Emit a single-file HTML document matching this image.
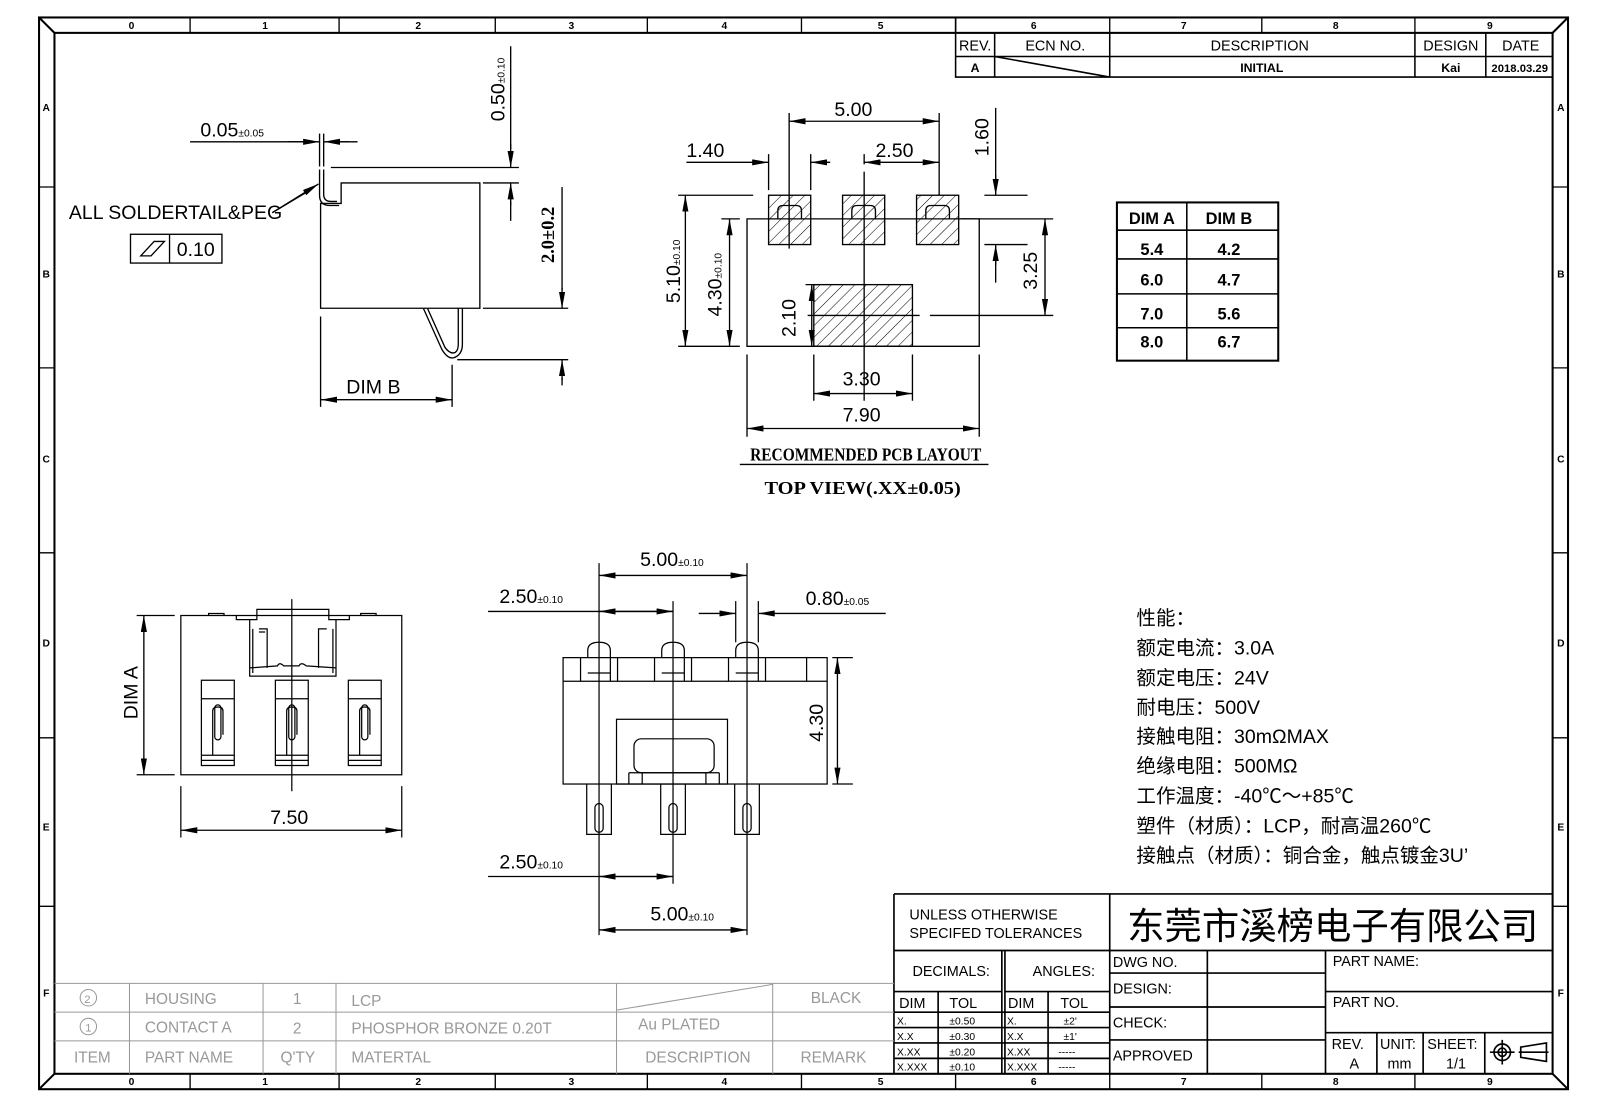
<!DOCTYPE html>
<html><head><meta charset="utf-8"><style>
html,body{margin:0;padding:0;background:#fff;}
svg{display:block;}
text{font-family:"Liberation Sans","Noto Sans CJK SC",sans-serif;}
.d{font-size:19px;font-weight:300;}
.s{font-size:10px;}
.g{fill:#999;font-size:15px;}
.t{font-size:14px;}
.r{font-size:10px;font-weight:bold;}
.cn{font-family:"Liberation Serif","Noto Serif CJK SC",serif;font-size:19px;}
.bs{font-family:"Liberation Serif","Noto Serif CJK SC",serif;font-weight:bold;}
</style></head><body>
<svg width="1605" height="1100" viewBox="0 0 1562 1070.5" preserveAspectRatio="none" xmlns="http://www.w3.org/2000/svg">
<defs>
<marker id="a" viewBox="0 0 16 6" refX="16" refY="3" markerWidth="16" markerHeight="6" markerUnits="userSpaceOnUse" orient="auto-start-reverse"><path d="M0,0 L16,3 L0,6z" fill="#000"/></marker>
<pattern id="h" width="8" height="8" patternUnits="userSpaceOnUse" patternTransform="rotate(45)"><line x1="0" y1="0" x2="0" y2="8" stroke="#000" stroke-width="1"/></pattern>
</defs>
<g fill="none" stroke="#000" stroke-width="2">
<rect x="38" y="17" width="1488" height="1043"/>
<rect x="53" y="32" width="1458" height="1013"/>
<path d="M38,17 L53,32 M1526,17 L1511,32 M38,1060 L53,1045 M1526,1060 L1511,1045"/>
</g>
<g stroke="#000" stroke-width="1.3">
<path d="M185,17V32 M330,17V32 M482,17V32 M630,17V32 M780,17V32 M930,17V32 M1080,17V32 M1228,17V32 M1377,17V32"/>
<path d="M185,1045V1060 M330,1045V1060 M482,1045V1060 M630,1045V1060 M780,1045V1060 M930,1045V1060 M1080,1045V1060 M1228,1045V1060 M1377,1045V1060"/>
<path d="M38,182H53 M38,358H53 M38,538H53 M38,718H53 M38,882H53 M1511,182H1526 M1511,358H1526 M1511,538H1526 M1511,718H1526 M1511,882H1526"/>
</g>
<g class="r" text-anchor="middle">
<text x="128" y="28">0</text><text x="258" y="28">1</text><text x="407" y="28">2</text><text x="556" y="28">3</text><text x="705" y="28">4</text><text x="857" y="28">5</text><text x="1006" y="28">6</text><text x="1152" y="28">7</text><text x="1300" y="28">8</text><text x="1450" y="28">9</text>
<text x="128" y="1056">0</text><text x="258" y="1056">1</text><text x="407" y="1056">2</text><text x="556" y="1056">3</text><text x="705" y="1056">4</text><text x="857" y="1056">5</text><text x="1006" y="1056">6</text><text x="1152" y="1056">7</text><text x="1300" y="1056">8</text><text x="1450" y="1056">9</text>
<text x="45" y="108">A</text><text x="45" y="270">B</text><text x="45" y="450">C</text><text x="45" y="629">D</text><text x="45" y="808">E</text><text x="45" y="970">F</text>
<text x="1519" y="108">A</text><text x="1519" y="270">B</text><text x="1519" y="450">C</text><text x="1519" y="629">D</text><text x="1519" y="808">E</text><text x="1519" y="970">F</text>
</g>
<!-- revision table -->
<g fill="none" stroke="#000" stroke-width="1.5">
<path d="M930,17V75H1511 M930,55H1511 M968,32V75 M1080,32V75 M1377,32V75 M1446,32V75 M968,55L1080,75"/>
</g>
<g class="t" text-anchor="middle" font-weight="300">
<text x="949" y="49">REV.</text><text x="1027" y="49">ECN NO.</text><text x="1226" y="49">DESCRIPTION</text><text x="1412" y="49">DESIGN</text><text x="1480" y="49">DATE</text>
</g>
<g font-size="12" font-weight="bold" text-anchor="middle">
<text x="949" y="70">A</text><text x="1228" y="70">INITIAL</text><text x="1412" y="70">Kai</text><text x="1479" y="70" font-size="11">2018.03.29</text>
</g>
<!-- side view -->
<g fill="none" stroke="#000" stroke-width="1.3">
<path d="M312,198H332V178H467V300H312Z"/>
<path d="M311,165V190Q311,200 321,200H330 M315,165V189Q315,196 322,196H328"/>
<path d="M412,300L430,340Q436,350 442,348Q450,345 450,335V300 M416,300L433,338Q438,345 443,343Q446,341 446,335V300"/>
<path d="M185,138H296 M330,138H348" /><path d="M311,130V162 M315,130V162"/>
<path d="M322,163H505 M470,178H505 M497,45V145 M497,196V215"/>
<path d="M470,300H553 M445,350H553 M547,182V282 M547,368V375"/>
<path d="M312,308V396 M440,355V396"/>
<path d="M265,207L300,186"/>
<rect x="127" y="228" width="89" height="28"/><path d="M165,228V256 M137,249L150,235H160L147,249Z"/>
</g>
<g stroke="#000" stroke-width="1.3" marker-end="url(#a)">
<line x1="280" y1="138" x2="311" y2="138"/><line x1="340" y1="138" x2="315" y2="138"/>
<line x1="497" y1="140" x2="497" y2="163"/><line x1="497" y1="200" x2="497" y2="178"/>
<line x1="547" y1="280" x2="547" y2="300"/><line x1="547" y1="370" x2="547" y2="350"/>
<line x1="312" y1="389" x2="440" y2="389" marker-start="url(#a)"/>
<line x1="265" y1="207" x2="310" y2="179"/>
</g>
<text x="195" y="133" class="d">0.05<tspan class="s">±0.05</tspan></text>
<text transform="translate(491,118) rotate(-90)" class="d">0.50<tspan class="s">±0.10</tspan></text>
<text transform="translate(539,256) rotate(-90)" class="bs" font-size="18">2.0±0.2</text>
<text x="337" y="383" class="d">DIM  B</text>
<text x="67" y="213" class="d">ALL  SOLDERTAIL&amp;PEG</text>
<text x="172" y="249" class="d">0.10</text>
<!-- PCB layout -->
<g stroke="#000" stroke-width="1.3">
<rect x="748" y="190" width="41" height="48" fill="url(#h)"/>
<rect x="820" y="190" width="41" height="48" fill="url(#h)"/>
<rect x="892" y="190" width="41" height="48" fill="url(#h)"/>
<rect x="792" y="277" width="96" height="60" fill="url(#h)"/>
<path fill="none" d="M727,213H953V337H727Z M757,213V205Q757,200 762,200H775Q780,200 780,205V213 M829,213V205Q829,200 834,200H847Q852,200 852,205V213 M901,213V205Q901,200 906,200H919Q924,200 924,205V213 M786,307H895 M905,307H1025"/>
<path fill="none" d="M841,150V160 M841,167V390 M768,110V242 M914,110V190 M748,150V185 M789,150V185 M958,190H1000 M958,238H1000 M935,213H1025 M660,190H733 M660,337H720 M702,213H720 M784,277H796 M792,345V390 M888,345V390 M727,345V425 M953,345V425 M720,452H962 M969,105V175 M969,253V275"/>
</g>
<g stroke="#000" stroke-width="1.3" marker-end="url(#a)">
<line x1="768" y1="118" x2="914" y2="118" marker-start="url(#a)"/>
<line x1="668" y1="158" x2="748" y2="158"/><line x1="808" y1="158" x2="789" y2="158"/>
<line x1="841" y1="158" x2="914" y2="158" marker-start="url(#a)"/>
<line x1="969" y1="170" x2="969" y2="190"/><line x1="969" y1="258" x2="969" y2="238"/>
<line x1="1017" y1="213" x2="1017" y2="307" marker-start="url(#a)"/>
<line x1="667" y1="190" x2="667" y2="337" marker-start="url(#a)"/>
<line x1="710" y1="213" x2="710" y2="337" marker-start="url(#a)"/>
<line x1="790" y1="277" x2="790" y2="337" marker-start="url(#a)"/>
<line x1="792" y1="383" x2="888" y2="383" marker-start="url(#a)"/>
<line x1="727" y1="417" x2="953" y2="417" marker-start="url(#a)"/>
</g>
<g class="d">
<text x="812" y="113">5.00</text><text x="668" y="153">1.40</text><text x="852" y="153">2.50</text>
<text x="820" y="375">3.30</text><text x="820" y="410">7.90</text>
<text transform="translate(962,152) rotate(-90)">1.60</text>
<text transform="translate(1009,282) rotate(-90)">3.25</text>
<text transform="translate(662,295) rotate(-90)">5.10<tspan class="s">±0.10</tspan></text>
<text transform="translate(702,308) rotate(-90)">4.30<tspan class="s">±0.10</tspan></text>
<text transform="translate(774,328) rotate(-90)">2.10</text>
</g>
<text x="730" y="448" class="bs" font-size="17" textLength="225" lengthAdjust="spacingAndGlyphs">RECOMMENDED PCB LAYOUT</text>
<text x="744" y="481" class="bs" font-size="17" textLength="191" lengthAdjust="spacingAndGlyphs">TOP VIEW(.XX±0.05)</text>
<!-- dim table -->
<g fill="none" stroke="#000" stroke-width="1.5">
<rect x="1087" y="197" width="157" height="154" stroke-width="2"/>
<path d="M1155,197V351 M1087,224H1244 M1087,252H1244 M1087,286H1244 M1087,319H1244"/>
</g>
<g class="bs" font-size="16" text-anchor="middle">
<text x="1121" y="218">DIM A</text><text x="1196" y="218">DIM B</text>
<text x="1121" y="248">5.4</text><text x="1196" y="248">4.2</text>
<text x="1121" y="278">6.0</text><text x="1196" y="278">4.7</text>
<text x="1121" y="311">7.0</text><text x="1196" y="311">5.6</text>
<text x="1121" y="338">8.0</text><text x="1196" y="338">6.7</text>
</g>
<!-- bottom-left view -->
<g fill="none" stroke="#000" stroke-width="1.2">
<rect x="176" y="599" width="215" height="155"/>
<path d="M284,583V770 M230,599V603H250V593H320V603H340V599 M203,599V597H218V599 M351,599V597H366V599"/>
<path d="M243,603V658H327V603 M246,612V655 M324,612V655 M252,612H260V650 M318,612H310V650 M252,615H258 M243,650L270,648Q272,644 276,648H291Q293,644 298,648L327,650"/>
<path d="M196,662H228V745H196Z M268,662H300V745H268Z M339,662H371V745H339Z"/>
<path d="M196,680H228 M268,680H300 M339,680H371 M196,735H228 M268,735H300 M339,735H371 M196,740H228 M268,740H300 M339,740H371"/>
<path d="M207,735V692Q207,688 212,688Q217,688 217,692V715 M279,735V692Q279,688 284,688Q289,688 289,692V715 M350,735V692Q350,688 355,688Q360,688 360,692V715"/>
<rect x="209" y="686" width="6" height="34" rx="3"/><rect x="281" y="686" width="6" height="34" rx="3"/><rect x="352" y="686" width="6" height="34" rx="3"/>
<path d="M133,599H170 M133,754H170 M176,765V815 M391,765V815"/>
</g>
<g stroke="#000" stroke-width="1.3" marker-end="url(#a)">
<line x1="140" y1="599" x2="140" y2="754" marker-start="url(#a)"/>
<line x1="176" y1="808" x2="391" y2="808" marker-start="url(#a)"/>
</g>
<text transform="translate(134,700) rotate(-90)" class="d">DIM  A</text>
<text x="263" y="802" class="d">7.50</text>
<!-- bottom-middle view -->
<g fill="none" stroke="#000" stroke-width="1.2">
<rect x="548" y="640" width="257" height="123"/>
<path d="M548,663H805"/>
<path d="M572,640V633Q572,625 583,625Q594,625 594,633V663 M644,640V633Q644,625 655,625Q666,625 666,633V663 M716,640V633Q716,625 727,625Q738,625 738,633V663"/>
<path d="M572,655H594 M644,655H666 M716,655H738 M565,640V663 M601,640V663 M637,640V663 M673,640V663 M709,640V663 M745,640V663 M785,640V663"/>
<rect x="600" y="700" width="108" height="63"/>
<rect x="617" y="719" width="78" height="33" rx="7"/>
<path d="M612,752H700 M612,752V763 M700,752V763 M625,752V763 M687,752V763"/>
<path d="M571,763V812H595V763 M643,763V812H667V763 M715,763V812H739V763"/>
<rect x="579" y="782" width="8" height="28" rx="4"/><rect x="651" y="782" width="8" height="28" rx="4"/><rect x="723" y="782" width="8" height="28" rx="4"/>
<path d="M583,548V625 M727,548V625 M655,585V630 M716,585V625 M738,585V625 M583,820V910 M655,820V860 M727,820V910 M810,640H830 M810,763H830 M583,625V830 M655,625V830 M727,625V830"/>
</g>
<g stroke="#000" stroke-width="1.3" marker-end="url(#a)">
<line x1="583" y1="560" x2="727" y2="560" marker-start="url(#a)"/>
<line x1="475" y1="595" x2="655" y2="595"/>
<line x1="655" y1="595" x2="583" y2="595"/>
<line x1="680" y1="597" x2="716" y2="597"/><line x1="862" y1="597" x2="738" y2="597"/>
<line x1="815" y1="640" x2="815" y2="763" marker-start="url(#a)"/>
<line x1="475" y1="853" x2="655" y2="853"/><line x1="655" y1="853" x2="583" y2="853"/>
<line x1="583" y1="905" x2="727" y2="905" marker-start="url(#a)"/>
</g>
<g class="d">
<text x="623" y="551">5.00<tspan class="s">±0.10</tspan></text>
<text x="486" y="587">2.50<tspan class="s">±0.10</tspan></text>
<text x="784" y="589">0.80<tspan class="s">±0.05</tspan></text>
<text transform="translate(801,722) rotate(-90)">4.30</text>
<text x="486" y="845">2.50<tspan class="s">±0.10</tspan></text>
<text x="633" y="896">5.00<tspan class="s">±0.10</tspan></text>
</g>
<!-- chinese spec -->
<g class="cn">
<text x="1106" y="608">性能：</text>
<text x="1106" y="637">额定电流：3.0A</text>
<text x="1106" y="666">额定电压：24V</text>
<text x="1106" y="695">耐电压：500V</text>
<text x="1106" y="723">接触电阻：30mΩMAX</text>
<text x="1106" y="752">绝缘电阻：500MΩ</text>
<text x="1106" y="781">工作温度：-40℃～+85℃</text>
<text x="1106" y="810">塑件（材质）：LCP，耐高温260℃</text>
<text x="1106" y="839">接触点（材质）：铜合金，触点镀金3U’</text>
</g>
<!-- title block -->
<g fill="none" stroke="#000" stroke-width="1.6">
<path d="M870,870H1511 M870,870V1045 M870,925H1511 M1080,870V1045 M975,925V1045 M978,925V1045 M870,965H975 M978,965H1080 M870,985H1080 M870,1000H1080 M870,1015H1080 M870,1030H1080 M913,965V1045 M1020,965V1045"/>
<path d="M1175,925V1045 M1080,947H1290 M1080,980H1290 M1080,1012H1290 M1290,925V1045 M1290,965H1511 M1290,1005H1511 M1340,1005V1045 M1385,1005V1045 M1445,1005V1045"/>
<circle cx="1462" cy="1024" r="8"/><circle cx="1462" cy="1024" r="4"/><path d="M1450,1024H1474 M1462,1012V1036 M1480,1019L1505,1015V1033L1480,1029Z M1478,1024H1507"/>
</g>
<g font-weight="300">
<text x="885" y="895" class="t">UNLESS  OTHERWISE</text>
<text x="885" y="913" class="t">SPECIFED  TOLERANCES</text>
<text x="888" y="950" class="t">DECIMALS:</text><text x="1005" y="950" class="t">ANGLES:</text>
<text x="875" y="981" class="t">DIM</text><text x="924" y="981" class="t">TOL</text><text x="981" y="981" class="t">DIM</text><text x="1032" y="981" class="t">TOL</text>
<g font-size="10"><text x="873" y="997">X.</text><text x="924" y="997">±0.50</text><text x="980" y="997">X.</text><text x="1035" y="997">±2'</text>
<text x="873" y="1012">X.X</text><text x="924" y="1012">±0.30</text><text x="980" y="1012">X.X</text><text x="1035" y="1012">±1'</text>
<text x="873" y="1027">X.XX</text><text x="924" y="1027">±0.20</text><text x="980" y="1027">X.XX</text><text x="1030" y="1027">-----</text>
<text x="873" y="1042">X.XXX</text><text x="924" y="1042">±0.10</text><text x="980" y="1042">X.XXX</text><text x="1030" y="1042">-----</text></g>
<text x="1083" y="941" class="t">DWG  NO.</text><text x="1083" y="967" class="t">DESIGN:</text>
<text x="1083" y="1000" class="t">CHECK:</text><text x="1083" y="1032" class="t">APPROVED</text>
<text x="1297" y="940" class="t">PART  NAME:</text><text x="1297" y="980" class="t">PART  NO.</text>
<text x="1296" y="1021" class="t">REV.</text><text x="1343" y="1021" class="t">UNIT:</text><text x="1389" y="1021" class="t">SHEET:</text>
<text x="1318" y="1040" class="t" text-anchor="middle">A</text><text x="1362" y="1040" class="t" text-anchor="middle">mm</text><text x="1417" y="1040" class="t" text-anchor="middle">1/1</text>
</g>
<text x="1097" y="914" font-size="36" font-family="'Noto Sans CJK SC',sans-serif" textLength="400" lengthAdjust="spacingAndGlyphs">东莞市溪榜电子有限公司</text>
<!-- BOM table -->
<g stroke="#999" stroke-width="1" fill="none">
<path d="M53,957H870 M53,985H870 M53,1013H870 M126,957V1045 M256,957V1045 M327,957V1045 M600,957V1045 M752,957V1045 M600,983L752,958"/>
<circle cx="86" cy="971" r="8"/><circle cx="86" cy="999" r="8"/>
</g>
<g class="g" font-weight="300">
<text x="82" y="976" font-size="11">2</text><text x="83" y="1004" font-size="11">1</text>
<text x="141" y="977">HOUSING</text><text x="285" y="977">1</text><text x="342" y="979">LCP</text><text x="789" y="976">BLACK</text>
<text x="141" y="1005">CONTACT  A</text><text x="285" y="1006">2</text><text x="342" y="1006">PHOSPHOR  BRONZE  0.20T</text><text x="621" y="1002">Au  PLATED</text>
<text x="72" y="1034">ITEM</text><text x="141" y="1034">PART  NAME</text><text x="273" y="1034">Q'TY</text><text x="342" y="1034">MATERTAL</text><text x="628" y="1034">DESCRIPTION</text><text x="779" y="1034">REMARK</text>
</g>
</svg>
</body></html>
